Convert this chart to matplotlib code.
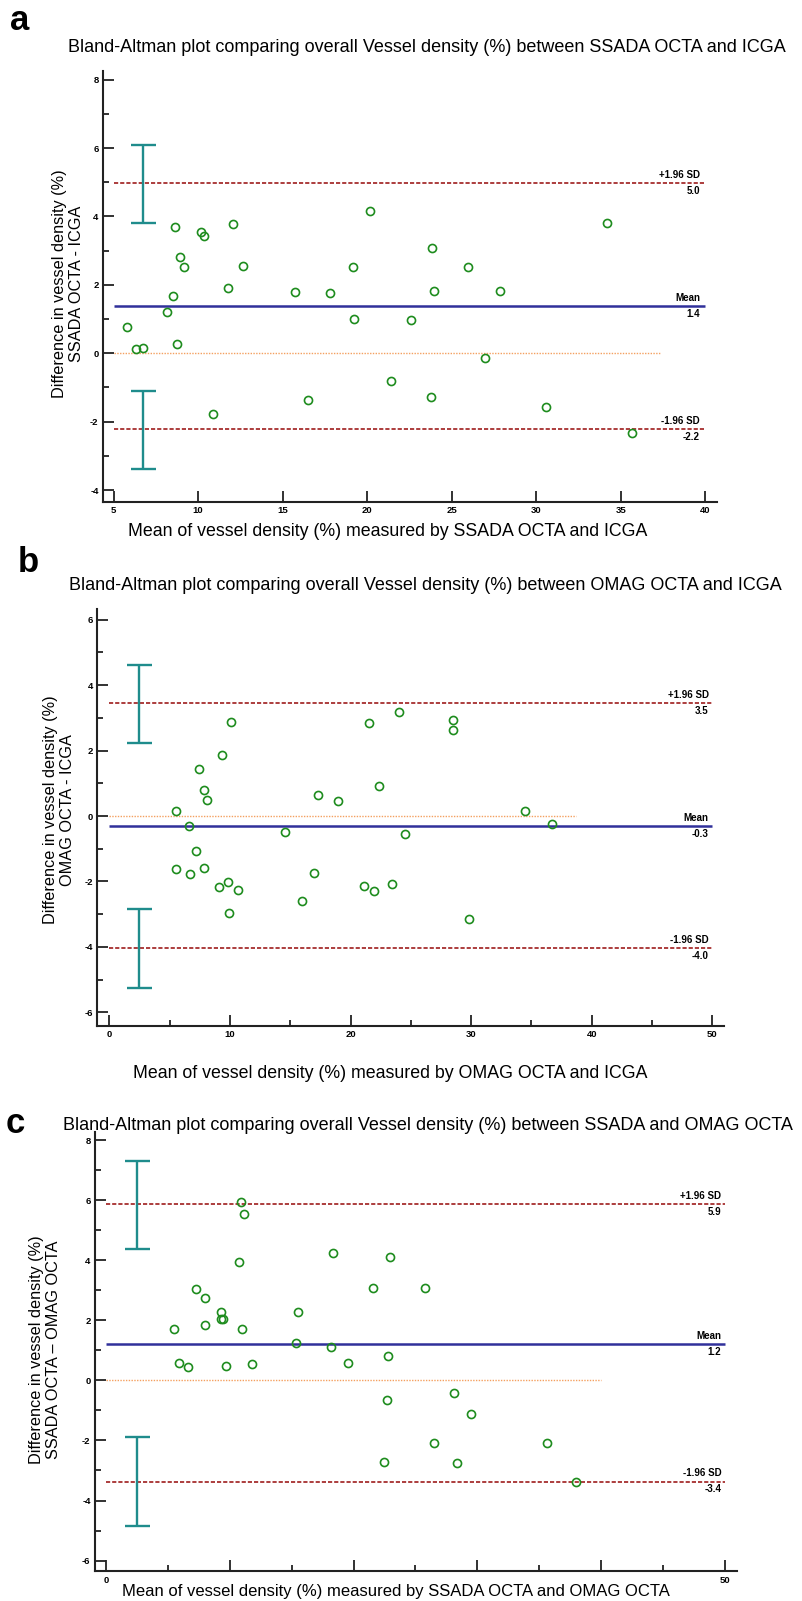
import matplotlib.pyplot as plt

plt.rcParams['font.family'] = ['Liberation Sans', 'DejaVu Sans']

# panel a: SSADA OCTA vs ICGA
a_mean = [5.80, 6.33, 6.76, 8.18, 8.53, 8.65, 8.78, 8.94, 9.14, 10.16, 10.35, 10.90, 11.78, 12.04, 12.65, 15.71,
          16.53, 17.82, 19.16, 19.24, 20.20, 21.41, 22.57, 23.78, 23.84, 23.98, 25.95, 26.97, 27.85, 30.56, 34.22, 35.66]
a_diff = [0.77, 0.11, 0.14, 1.21, 1.68, 3.70, 0.27, 2.82, 2.53, 3.56, 3.42, -1.78, 1.92, 3.77, 2.56, 1.79,
          -1.37, 1.75, 2.53, 1.00, 4.17, -0.80, 0.98, -1.27, 3.09, 1.81, 2.53, -0.13, 1.81, -1.56, 3.80, -2.34]
a_limits = [4.97, 1.37, -2.22]          # +1.96 SD, mean, -1.96 SD
a_limit_text = ['5.0', '1.4', '-2.2']
a_ci_low = [3.82, -3.38]
a_ci_high = [6.10, -1.09]

# panel b: OMAG OCTA vs ICGA
b_mean = [5.50, 5.50, 6.57, 6.69, 7.15, 7.46, 7.85, 7.85, 8.12, 9.12, 9.31, 9.81, 9.92, 10.08, 10.69, 14.59,
          15.94, 16.99, 17.29, 18.92, 21.08, 21.57, 21.96, 22.35, 23.43, 24.01, 24.50, 28.51, 28.51, 29.83, 34.50, 36.73]
b_diff = [0.16, -1.61, -0.29, -1.77, -1.08, 1.45, 0.79, -1.58, 0.48, -2.16, 1.86, -2.02, -2.98, 2.87, -2.26, -0.50,
          -2.61, -1.74, 0.65, 0.45, -2.13, 2.84, -2.29, 0.93, -2.09, 3.18, -0.56, 2.93, 2.63, -3.14, 0.16, -0.25]
b_limits = [3.45, -0.31, -4.05]
b_limit_text = ['3.5', '-0.3', '-4.0']
b_ci_low = [2.22, -5.27]
b_ci_high = [4.61, -2.85]

# panel c: SSADA OCTA vs OMAG OCTA
c_mean = [5.50, 5.88, 6.63, 7.30, 7.98, 7.98, 9.33, 9.27, 9.43, 9.70, 10.75, 10.94, 11.02, 11.13, 11.81, 15.34,
          15.53, 18.19, 18.30, 19.54, 21.54, 22.48, 22.70, 22.78, 22.96, 25.74, 26.52, 28.14, 28.36, 29.45, 35.65, 37.97]
c_diff = [1.71, 0.58, 0.45, 3.04, 2.75, 1.85, 2.28, 2.04, 2.03, 0.48, 3.94, 5.92, 1.70, 5.54, 0.56, 1.24,
          2.28, 1.12, 4.24, 0.58, 3.06, -2.71, -0.67, 0.81, 4.09, 3.06, -2.10, -0.42, -2.74, -1.12, -2.08, -3.39]
c_limits = [5.87, 1.20, -3.37]
c_limit_text = ['5.9', '1.2', '-3.4']
c_ci_low = [4.38, -4.84]
c_ci_high = [7.30, -1.89]

panels = [
    dict(mean=a_mean, diff=a_diff, lim=a_limits, lim_text=a_limit_text, ci_lo=a_ci_low, ci_hi=a_ci_high,
         ci_x=6.73, line_x=(5, 40), zero_end=37.4, text_x=39.7,
         xlim=(4.36, 40.7), ylim=(-4.35, 8.24), xticks=range(5, 45, 5), xlabels=[str(v) for v in range(5, 45, 5)],
         xminor=[], yticks=range(-4, 10, 2), yminor=range(-3, 9, 2),
         box=(102.7, 71.5, 717, 502), letter='a', letter_xy=(20, 20),
         title='Bland-Altman plot comparing overall Vessel density (%) between SSADA OCTA and ICGA',
         title_xy=(68, 47), xlabel='Mean of vessel density (%) measured by SSADA OCTA and ICGA', xlabel_xy=(388, 531),
         xlabel_size=12.8, ylabel='Difference in vessel density (%)\nSSADA OCTA - ICGA', ylabel_xy=(68, 284)),
    dict(mean=b_mean, diff=b_diff, lim=b_limits, lim_text=b_limit_text, ci_lo=b_ci_low, ci_hi=b_ci_high,
         ci_x=2.46, line_x=(0, 50), zero_end=38.7, text_x=49.7,
         xlim=(-1.0, 50.97), ylim=(-6.42, 6.33), xticks=range(0, 60, 10), xlabels=[str(v) for v in range(0, 60, 10)],
         xminor=range(5, 50, 10), yticks=range(-6, 8, 2), yminor=range(-5, 7, 2),
         box=(97.3, 609, 724, 1026), letter='b', letter_xy=(28, 562),
         title='Bland-Altman plot comparing overall Vessel density (%) between OMAG OCTA and ICGA',
         title_xy=(69, 585), xlabel='Mean of vessel density (%) measured by OMAG OCTA and ICGA', xlabel_xy=(390, 1073),
         xlabel_size=12.8, ylabel='Difference in vessel density (%)\nOMAG OCTA - ICGA', ylabel_xy=(59, 810)),
    dict(mean=c_mean, diff=c_diff, lim=c_limits, lim_text=c_limit_text, ci_lo=c_ci_low, ci_hi=c_ci_high,
         ci_x=2.48, line_x=(0, 50), zero_end=40.0, text_x=49.7,
         xlim=(-0.91, 50.95), ylim=(-6.36, 8.28), xticks=range(0, 60, 10), xlabels=['0', '', '', '', '', '50'],
         xminor=range(5, 50, 10), yticks=range(-6, 10, 2), yminor=range(-5, 9, 2),
         box=(94.7, 1131.6, 736.7, 1571.4), letter='c', letter_xy=(15, 1123),
         title='Bland-Altman plot comparing overall Vessel density (%) between SSADA and OMAG OCTA',
         title_xy=(63, 1126), xlabel='Mean of vessel density (%) measured by SSADA OCTA and OMAG OCTA', xlabel_xy=(396, 1591),
         xlabel_size=12.0, ylabel='Difference in vessel density (%)\nSSADA OCTA \u2013 OMAG OCTA', ylabel_xy=(45, 1350)),
]

W, H = 802, 1601
fig = plt.figure(figsize=(W / 100, H / 100), dpi=100)

for p in panels:
    x0, y0, x1, y1 = p['box']
    ax = fig.add_axes([x0 / W, 1 - y1 / H, (x1 - x0) / W, (y1 - y0) / H])
    ax.set_xlim(*p['xlim'])
    ax.set_ylim(*p['ylim'])

    # reference lines
    ax.hlines(0, p['line_x'][0], p['zero_end'], color='#f4a060', lw=1.0, linestyle=(0, (1, 1)))
    ax.hlines(p['lim'][1], *p['line_x'], color='#30309a', lw=1.8)
    for v in (p['lim'][0], p['lim'][2]):
        ax.hlines(v, *p['line_x'], color='#9e1c1c', lw=1.2, linestyle=(0, (2.5, 1.2)))

    # confidence intervals of the limits of agreement
    for lo, hi, loa in zip(p['ci_lo'], p['ci_hi'], (p['lim'][0], p['lim'][2])):
        ax.errorbar([p['ci_x']], [loa], yerr=[[loa - lo], [hi - loa]], fmt='none', ecolor='#1f8c8c',
                    elinewidth=1.7, capsize=9, capthick=1.7)

    ax.plot(p['mean'], p['diff'], 'o', mfc='none', mec='#1e8c1e', ms=5.8, mew=1.2)

    tops = ['+1.96 SD', 'Mean', '-1.96 SD']
    for v, top, bottom in zip(p['lim'], tops, p['lim_text']):
        ax.annotate(top, (p['text_x'], v), xytext=(0, 2.5), textcoords='offset points',
                    ha='right', va='bottom', fontsize=7, fontweight='bold')
        ax.annotate(bottom, (p['text_x'], v), xytext=(0, -2), textcoords='offset points',
                    ha='right', va='top', fontsize=7, fontweight='bold')

    ax.set_xticks(list(p['xticks']), p['xlabels'], fontweight='bold', fontsize=6.8)
    ax.set_xticks(list(p['xminor']), minor=True)
    ax.set_yticks(list(p['yticks']), [str(v) for v in p['yticks']], fontweight='bold', fontsize=6.8)
    ax.set_yticks(list(p['yminor']), minor=True)
    ax.tick_params(which='both', direction='in', width=1.3, color='#222222')
    ax.tick_params(which='major', length=8, pad=3)
    ax.tick_params(which='minor', length=4)
    for side in ('top', 'right'):
        ax.spines[side].set_visible(False)
    for side in ('left', 'bottom'):
        ax.spines[side].set_linewidth(1.5)
        ax.spines[side].set_color('#222222')

    fig.text(p['letter_xy'][0] / W, 1 - p['letter_xy'][1] / H, p['letter'], fontsize=25, fontweight='bold',
             ha='center', va='center')
    fig.text(p['title_xy'][0] / W, 1 - p['title_xy'][1] / H, p['title'], fontsize=13, ha='left', va='center')
    fig.text(p['xlabel_xy'][0] / W, 1 - p['xlabel_xy'][1] / H, p['xlabel'], fontsize=p['xlabel_size'],
             ha='center', va='center')
    fig.text(p['ylabel_xy'][0] / W, 1 - p['ylabel_xy'][1] / H, p['ylabel'], fontsize=11.7, rotation=90,
             ha='center', va='center', multialignment='center')

fig.savefig('out.png', dpi=100)
